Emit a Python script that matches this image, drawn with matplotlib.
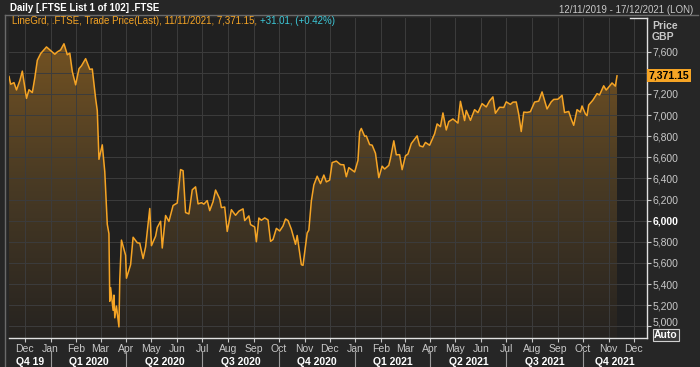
import numpy as np
import pandas as pd
import matplotlib
matplotlib.use("Agg")
import matplotlib.pyplot as plt
import matplotlib.dates as mdates
import matplotlib.transforms as mtransforms
from matplotlib.lines import Line2D

plt.rcParams['font.family'] = ['Liberation Sans', 'DejaVu Sans']

# FTSE 100 closes
dates = [
    "2019-11-12", "2019-11-14", "2019-11-18", "2019-11-21", "2019-11-25", "2019-11-28",
    "2019-12-03", "2019-12-06", "2019-12-10", "2019-12-13", "2019-12-16", "2019-12-20",
    "2019-12-27",
    "2020-01-02", "2020-01-06", "2020-01-09", "2020-01-13", "2020-01-17", "2020-01-21",
    "2020-01-24", "2020-01-27", "2020-01-31", "2020-02-04", "2020-02-07", "2020-02-12",
    "2020-02-17", "2020-02-20", "2020-02-24", "2020-02-26", "2020-02-28", "2020-03-03",
    "2020-03-06", "2020-03-09", "2020-03-11", "2020-03-12", "2020-03-13", "2020-03-16",
    "2020-03-17", "2020-03-18", "2020-03-20", "2020-03-23", "2020-03-24", "2020-03-26",
    "2020-03-31", "2020-04-01", "2020-04-06", "2020-04-09", "2020-04-14", "2020-04-17",
    "2020-04-21", "2020-04-24", "2020-04-29", "2020-05-01", "2020-05-06", "2020-05-08",
    "2020-05-12", "2020-05-14", "2020-05-18", "2020-05-22", "2020-05-27", "2020-06-01",
    "2020-06-05", "2020-06-08", "2020-06-11", "2020-06-15", "2020-06-19", "2020-06-23",
    "2020-06-26", "2020-06-30", "2020-07-03", "2020-07-07", "2020-07-10", "2020-07-14",
    "2020-07-17", "2020-07-22", "2020-07-24", "2020-07-28", "2020-07-31", "2020-08-05",
    "2020-08-10", "2020-08-14", "2020-08-19", "2020-08-21", "2020-08-26", "2020-08-28",
    "2020-09-02", "2020-09-04", "2020-09-07", "2020-09-10", "2020-09-14", "2020-09-18",
    "2020-09-21", "2020-09-24", "2020-09-28", "2020-10-02", "2020-10-06", "2020-10-09",
    "2020-10-12", "2020-10-16", "2020-10-21", "2020-10-23", "2020-10-28", "2020-10-30",
    "2020-11-04", "2020-11-06", "2020-11-09", "2020-11-12", "2020-11-16", "2020-11-20",
    "2020-11-24", "2020-11-27", "2020-12-01", "2020-12-04", "2020-12-09", "2020-12-14",
    "2020-12-18", "2020-12-21", "2020-12-24", "2020-12-31",
    "2021-01-04", "2021-01-06", "2021-01-08", "2021-01-12", "2021-01-14", "2021-01-18",
    "2021-01-21", "2021-01-25", "2021-01-29", "2021-02-02", "2021-02-05", "2021-02-10",
    "2021-02-12", "2021-02-16", "2021-02-19", "2021-02-23", "2021-02-26", "2021-03-02",
    "2021-03-05", "2021-03-09", "2021-03-12", "2021-03-16", "2021-03-19", "2021-03-23",
    "2021-03-26", "2021-03-31", "2021-04-06", "2021-04-09", "2021-04-13", "2021-04-16",
    "2021-04-20", "2021-04-23", "2021-04-28", "2021-05-04", "2021-05-07", "2021-05-12",
    "2021-05-14", "2021-05-19", "2021-05-24", "2021-05-28", "2021-06-02", "2021-06-07",
    "2021-06-11", "2021-06-15", "2021-06-18", "2021-06-23", "2021-06-28", "2021-07-01",
    "2021-07-06", "2021-07-09", "2021-07-13", "2021-07-16", "2021-07-19", "2021-07-22",
    "2021-07-26", "2021-07-30", "2021-08-04", "2021-08-09", "2021-08-13", "2021-08-19",
    "2021-08-24", "2021-08-27", "2021-09-01", "2021-09-06", "2021-09-09", "2021-09-14",
    "2021-09-17", "2021-09-20", "2021-09-24", "2021-09-28", "2021-09-30", "2021-10-04",
    "2021-10-06", "2021-10-08", "2021-10-13", "2021-10-18", "2021-10-21", "2021-10-26",
    "2021-10-29", "2021-11-02", "2021-11-05", "2021-11-09", "2021-11-11",
]
prices = [
    7365, 7292, 7307, 7238, 7326, 7416,
    7158, 7240, 7213, 7353, 7519, 7582,
    7645,
    7604, 7576, 7598, 7617, 7675, 7571,
    7586, 7412, 7286, 7439, 7466, 7534,
    7433, 7436, 7157, 7042, 6581, 6718,
    6463, 5965, 5876, 5237, 5366, 5151,
    5295, 5080, 5191, 4994, 5446, 5816,
    5672, 5455, 5583, 5843, 5791, 5787,
    5641, 5752, 6115, 5763, 5853, 5936,
    5994, 5741, 6049, 5993, 6144, 6167,
    6484, 6473, 6077, 6064, 6292, 6320,
    6159, 6170, 6157, 6190, 6095, 6180,
    6290, 6207, 6124, 6129, 5898, 6104,
    6051, 6090, 6112, 6001, 6045, 5963,
    5940, 5800, 6025, 6004, 6026, 6007,
    5804, 5822, 5927, 5902, 5950, 6016,
    6001, 5919, 5776, 5860, 5583, 5577,
    5883, 5910, 6186, 6338, 6421, 6351,
    6432, 6367, 6384, 6550, 6564, 6531,
    6529, 6416, 6502, 6461,
    6572, 6841, 6873, 6799, 6802, 6720,
    6715, 6638, 6407, 6516, 6489, 6524,
    6589, 6756, 6624, 6625, 6483, 6614,
    6631, 6730, 6761, 6803, 6709, 6699,
    6741, 6714, 6823, 6916, 6890, 7020,
    6859, 6938, 6963, 6924, 7130, 6948,
    7044, 6950, 7051, 7023, 7108, 7077,
    7134, 7172, 7017, 7074, 7072, 7125,
    7101, 7122, 7124, 7008, 6844, 7028,
    7025, 7032, 7123, 7132, 7219, 7058,
    7125, 7148, 7150, 7187, 7024, 7034,
    6963, 6903, 7051, 7028, 7086, 7011,
    6995, 7095, 7141, 7203, 7190, 7277,
    7237, 7274, 7304, 7274, 7371,
]
y_ticks = list(range(5000, 7601, 200))
quarters = [("Q4 19", "2019-10-01"), ("Q1 2020", "2020-01-01"), ("Q2 2020", "2020-04-01"),
            ("Q3 2020", "2020-07-01"), ("Q4 2020", "2020-10-01"), ("Q1 2021", "2021-01-01"),
            ("Q2 2021", "2021-04-01"), ("Q3 2021", "2021-07-01"), ("Q4 2021", "2021-10-01")]

x0, x1 = pd.Timestamp("2019-11-12"), pd.Timestamp("2021-12-17")
y0, y1 = 4889, 7919

bg = "#262626"
panel = "#202020"
orange = "#f5a425"
txt = "#c8c8c8"

fig = plt.figure(figsize=(7, 3.67), dpi=100, facecolor=bg)
ax = fig.add_axes([9 / 700, 29 / 367, 638 / 700, 320 / 367])
ax.set_facecolor(panel)

d = pd.to_datetime(dates)
xd = mdates.date2num(d)
ax.set_xlim(x0, x1)
ax.set_ylim(y0, y1)

# gradient fill under the line
poly = ax.fill_between(xd, prices, y0, color="none", lw=0)
grad = np.linspace(0, 1, 256).reshape(-1, 1)
cmap = matplotlib.colors.LinearSegmentedColormap.from_list(
    "g", ["#262320", "#4a3b24", "#7a5622"])
im = ax.imshow(grad, cmap=cmap, aspect="auto", origin="lower",
               extent=[mdates.date2num(x0), mdates.date2num(x1), y0, y1], zorder=1)
path = poly.get_paths()[0]
im.set_clip_path(path, transform=ax.transData)
ax.plot(xd, prices, color=orange, lw=1.1, zorder=3)

# grid
ax.xaxis.set_major_locator(mdates.MonthLocator())
ax.xaxis.set_major_formatter(mdates.DateFormatter("%b"))
ax.set_yticks(y_ticks)
for t in y_ticks:
    ax.axhline(t, color="#3c3c3c", lw=0.7, zorder=2)
for m in pd.date_range("2019-12-01", "2021-12-01", freq="MS"):
    ax.axvline(m, color="#3c3c3c", lw=0.7, zorder=2)

ax.yaxis.tick_right()
# 7,400 sits under the last-value tag, as in the reference
ax.set_yticklabels(["" if v == 7400 else f"{v:,}" for v in y_ticks])
ax.tick_params(axis="y", colors=txt, labelsize=7.5, length=3, pad=1)
ax.tick_params(axis="x", colors=txt, labelsize=7.5, length=3, pad=1)
for lab in ax.get_yticklabels():
    if lab.get_text() == "6,000":
        lab.set_fontweight("bold")
        lab.set_color("white")
    if lab.get_text() == "5,000":
        lab.set_transform(lab.get_transform() +
                          mtransforms.ScaledTranslation(0, 5 / 100, fig.dpi_scale_trans))

for s in ["top", "left"]:
    ax.spines[s].set_visible(False)
ax.spines["right"].set_color("#e0e0e0")
ax.spines["bottom"].set_color("#e0e0e0")
ax.spines["right"].set_linewidth(1)
ax.spines["bottom"].set_linewidth(1)
fig.add_artist(Line2D([630 / 700, 647 / 700], [1 - 18 / 367] * 2, color="#e0e0e0", lw=1))

# quarter labels and separators
tr = mtransforms.blended_transform_factory(ax.transData, ax.transAxes)
qstarts = [pd.Timestamp(s) for _, s in quarters] + [pd.Timestamp("2022-01-01")]
for i, (q, _) in enumerate(quarters):
    a = max(qstarts[i], x0)
    b = min(qstarts[i + 1], x1)
    c = a + (b - a) / 2
    ax.text(c, -0.075, q, transform=tr, ha="center", va="center", color="white",
            fontsize=7.5, fontweight="bold", clip_on=False)
    if qstarts[i] > x0:
        ax.add_line(Line2D([mdates.date2num(qstarts[i])] * 2, [-0.045, -0.1], transform=tr,
                           color="#9a9a9a", lw=0.8, clip_on=False))

# panel frame
fig.add_artist(Line2D([5 / 700, 698 / 700], [1 - 15 / 367] * 2, color="#6a6a6a", lw=1))
fig.add_artist(Line2D([5 / 700, 5 / 700], [0, 1 - 15 / 367], color="#6a6a6a", lw=1))

# header texts
fig.text(10 / 700, 1 - 8 / 367, "Daily [.FTSE List 1 of 102] .FTSE", color="white",
         fontsize=7, fontweight="bold", va="center")
fig.text(693 / 700, 1 - 10 / 367, "12/11/2019 - 17/12/2021 (LON)", color=txt,
         fontsize=7, va="center", ha="right")
leg = fig.text(12 / 700, 1 - 21 / 367,
               "LineGrd, .FTSE, Trade Price(Last), 11/11/2021, 7,371.15, ",
               color=orange, fontsize=7, va="center")
fig.canvas.draw()
bb = leg.get_window_extent()
fig.text(bb.x1 / fig.bbox.width, 1 - 21 / 367, "+31.01, (+0.42%)", color="#3cc8d8",
         fontsize=7, va="center")

fig.text(652 / 700, 1 - 26 / 367, "Price", color=txt, fontsize=7.5, fontweight="bold",
         va="center")
fig.text(652 / 700, 1 - 37 / 367, "GBP", color=txt, fontsize=7.5, fontweight="bold",
         va="center")

# last value tag
tr2 = mtransforms.blended_transform_factory(ax.transAxes, ax.transData)
ax.text(1.003, prices[-1], f"{prices[-1]:,}.15", transform=tr2, ha="left", va="center",
        color="black", fontsize=7.5, fontweight="bold", clip_on=False, zorder=5,
        bbox=dict(boxstyle="square,pad=0.15", fc=orange, ec="none"))

fig.text(666 / 700, 1 - 335 / 367, "Auto", color="white", fontsize=7.5, fontweight="bold",
         va="center", ha="center",
         bbox=dict(boxstyle="square,pad=0.1", fc="#3a3a3a", ec="#d0d0d0", lw=0.8))

fig.savefig("out.png", dpi=100, facecolor=bg)
